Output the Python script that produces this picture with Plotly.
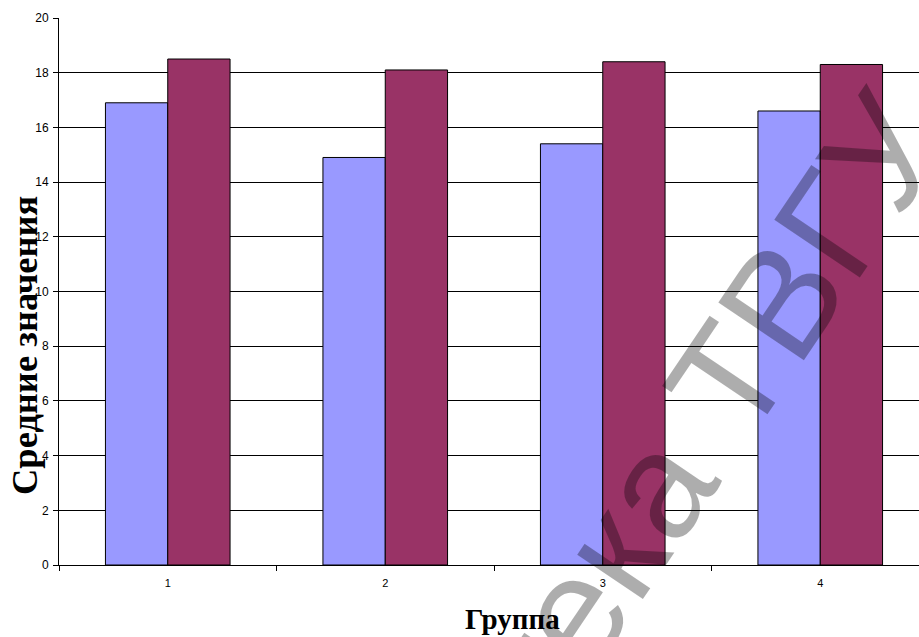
import plotly.graph_objects as go

groups = ["1", "2", "3", "4"]
series_a = [16.9, 14.9, 15.4, 16.6]
series_b = [18.5, 18.1, 18.4, 18.3]
y_ticks = [0, 2, 4, 6, 8, 10, 12, 14, 16, 18, 20]

W, H = 919, 637
ML, MR, MT, MB = 59, 0, 18, 72
PW, PH = W - ML - MR, H - MT - MB
CAT_PX = 217.5


def px_to_paper(px, py):
    return (px - ML) / PW, 1 - (py - MT) / PH


fig = go.Figure()
fig.add_trace(go.Bar(x=groups, y=series_a, marker=dict(color="#9999FF", line=dict(color="#000000", width=1)), showlegend=False))
fig.add_trace(go.Bar(x=groups, y=series_b, marker=dict(color="#993366", line=dict(color="#000000", width=1)), showlegend=False))

tick_font = dict(family="Liberation Sans, Arial, sans-serif", size=12, color="#000000")

fig.update_layout(
    width=W, height=H, autosize=False,
    margin=dict(l=ML, r=MR, t=MT, b=MB, pad=0),
    paper_bgcolor="white", plot_bgcolor="white",
    barmode="group", bargap=0.427, bargroupgap=0,
    xaxis=dict(
        type="category", range=[-0.5, -0.5 + PW / CAT_PX],
        showgrid=False, showline=True, linecolor="#000000", linewidth=1,
        ticks="outside", ticklen=5, tickcolor="#000000", tickson="boundaries",
        tickfont=dict(tick_font, size=11), zeroline=False, ticklabelstandoff=8,
    ),
    yaxis=dict(
        range=[0, 20], tickvals=y_ticks, showgrid=True, gridcolor="#000000", gridwidth=1,
        showline=True, linecolor="#000000", linewidth=1,
        ticks="outside", ticklen=5, tickcolor="#000000", tickfont=tick_font,
        zeroline=True, zerolinecolor="#000000", zerolinewidth=1, ticklabelstandoff=2,
    ),
)

title_font = dict(family="Liberation Serif, Times New Roman, serif", size=29, color="#000000")
xt, yt = px_to_paper(512, 619)
fig.add_annotation(text="<b>Группа</b>", x=xt, y=yt, xref="paper", yref="paper",
                   showarrow=False, font=title_font, xanchor="center", yanchor="middle")
xt, yt = px_to_paper(24, 346)
fig.add_annotation(text="<b>Средние значения</b>", x=xt, y=yt, xref="paper", yref="paper",
                   showarrow=False, font=dict(title_font, size=36.5), textangle=-90,
                   xanchor="center", yanchor="middle")

# watermark
xw, yw = px_to_paper(566, 620)
fig.add_annotation(text="Библиотека ТВГУ", x=xw, y=yw, xref="paper", yref="paper",
                   showarrow=False, textangle=-56,
                   font=dict(family="Liberation Sans, Arial, sans-serif", size=150, color="rgba(0,0,0,0.32)"),
                   xanchor="center", yanchor="middle")

fig.write_html("out.html", config={"displayModeBar": False},
               post_script="document.body.style.margin='0';document.body.style.overflow='hidden';")
